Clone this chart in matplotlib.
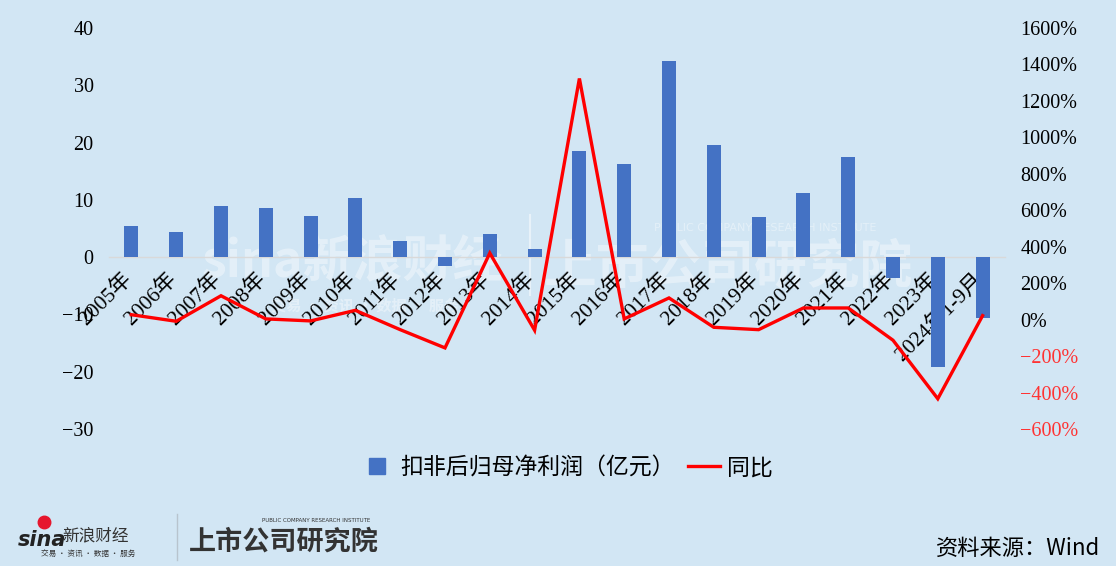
import matplotlib
matplotlib.use("Agg")
import matplotlib.pyplot as plt
import matplotlib.transforms as mtransforms
from matplotlib.lines import Line2D
from matplotlib.ticker import FuncFormatter, MultipleLocator

## DATA
years = ["2005年", "2006年", "2007年", "2008年", "2009年", "2010年", "2011年",
         "2012年", "2013年", "2014年", "2015年", "2016年", "2017年", "2018年",
         "2019年", "2020年", "2021年", "2022年", "2023年", "2024年1-9月"]
profit = [5.4, 4.4, 8.9, 8.6, 7.2, 10.3, 2.85, -1.6, 4.0, 1.45,
          18.5, 16.3, 34.3, 19.6, 7.0, 11.2, 17.5, -3.7, -19.2, -10.6]
yoy = [27, -9, 131, 4, -7, 51, -55, -155, 365, -58,
       1323, 4, 119, -42, -55, 64, 64, -113, -434, 22]

bg = "#D2E6F4"
serif = ["Liberation Serif", "Noto Sans CJK SC"]
cjk = ["Noto Sans CJK SC", "DejaVu Sans"]

fig = plt.figure(figsize=(11.16, 5.66), dpi=100, facecolor=bg)
ax = fig.add_axes([109 / 1116, 1 - 429 / 566, 896 / 1116, 401 / 566])
ax.set_facecolor("none")
ax2 = ax.twinx()

x = range(len(years))
ax.bar(x, profit, width=0.31, color="#4472C4", zorder=3)
ax2.plot(x, yoy, color="#FF0000", linewidth=2.4, solid_joinstyle="miter", zorder=4)

ax.set_xlim(-0.5, len(years) - 0.5)
ax.set_ylim(-30, 40)
ax2.set_ylim(-600, 1600)
ax.yaxis.set_major_locator(MultipleLocator(10))
ax2.yaxis.set_major_locator(MultipleLocator(200))
ax2.yaxis.set_major_formatter(FuncFormatter(lambda v, p: f"{int(v)}%".replace("-", "\u2212")))

for sp in ["top", "left", "right"]:
    ax.spines[sp].set_visible(False)
for sp in ["top", "left", "right", "bottom"]:
    ax2.spines[sp].set_visible(False)
ax.spines["bottom"].set_position(("data", 0))
ax.spines["bottom"].set_color("#D9D9D9")
ax.spines["bottom"].set_linewidth(1.0)

ax.tick_params(axis="y", length=0, pad=11, labelsize=14.5)
ax2.tick_params(axis="y", length=0, pad=11, labelsize=14.5)
ax.tick_params(axis="x", length=0, pad=14)
for lab in ax.get_yticklabels():
    lab.set_family(serif)
for lab in ax2.get_yticklabels():
    lab.set_family(serif)
    if lab.get_text().startswith("\u2212"):
        lab.set_color("#FF3333")

ax.set_xticks(list(x))
ax.set_xticklabels(years, rotation=45, ha="right", va="center",
                   rotation_mode="anchor", fontsize=15.5, family=serif)
offset = mtransforms.ScaledTranslation(-2 / 72, 0, fig.dpi_scale_trans)
for lab in ax.get_xticklabels():
    lab.set_transform(lab.get_transform() + offset)

# watermark inside the plot
wm = dict(color="white", alpha=0.4, ha="center", va="center", zorder=-1)
fig.text(352 / 1116, 1 - 262 / 566, "sina新浪财经", family=cjk, fontsize=36,
         fontweight="bold", style="italic", **wm)
fig.text(365 / 1116, 1 - 305 / 566, "交易 · 资讯 · 数据 · 服务", family=cjk, fontsize=11,
         fontweight="bold", **wm)
fig.add_artist(Line2D([530 / 1116, 530 / 1116], [1 - 215 / 566, 1 - 295 / 566],
                      color="white", alpha=0.5, linewidth=1.5, zorder=-1))
fig.text(728 / 1116, 1 - 268 / 566, "上市公司研究院", family=cjk, fontsize=38,
         fontweight="bold", **wm)
fig.text(765 / 1116, 1 - 228 / 566, "PUBLIC COMPANY RESEARCH INSTITUTE", fontsize=8, **wm)

# legend
handles = [Line2D([], [], marker="s", markersize=11, linestyle="none",
                  color="#4472C4"),
           Line2D([], [], color="#FF0000", linewidth=2.4)]
fig.legend(handles, ["扣非后归母净利润（亿元）", "同比"], loc="center",
           bbox_to_anchor=(567 / 1116, 1 - 468 / 566), ncol=2, frameon=False,
           prop={"family": cjk, "size": 16.5}, handlelength=1.4, handletextpad=0.3,
           columnspacing=0.6)

# footer
fig.text(42 / 1116, 1 - 540 / 566, "sina", fontsize=15, fontweight="bold",
         style="italic", color="#222222", ha="center", va="center")
fig.add_artist(Line2D([44 / 1116], [1 - 522 / 566], marker="o", markersize=9,
                      color="#E6162D", markeredgecolor="#E6162D"))
fig.text(96 / 1116, 1 - 536 / 566, "新浪财经", family=cjk, fontsize=12,
         color="#333333", ha="center", va="center")
fig.text(88 / 1116, 1 - 554 / 566, "交易 · 资讯 · 数据 · 服务", family=cjk, fontsize=5.5,
         color="#333333", ha="center", va="center")
fig.add_artist(Line2D([177 / 1116, 177 / 1116], [1 - 514 / 566, 1 - 560 / 566],
                      color="#B8C4CE", linewidth=1))
fig.text(284 / 1116, 1 - 542 / 566, "上市公司研究院", family=cjk, fontsize=19.5,
         fontweight="bold", style="italic", color="#333333", ha="center", va="center")
fig.text(316 / 1116, 1 - 520 / 566, "PUBLIC COMPANY RESEARCH INSTITUTE", fontsize=4,
         color="#333333", ha="center", va="center")
fig.text(1100 / 1116, 1 - 548 / 566, "资料来源：Wind", family=cjk, fontsize=16,
         color="black", ha="right", va="center")

fig.savefig("out.png", dpi=100, facecolor=bg)
